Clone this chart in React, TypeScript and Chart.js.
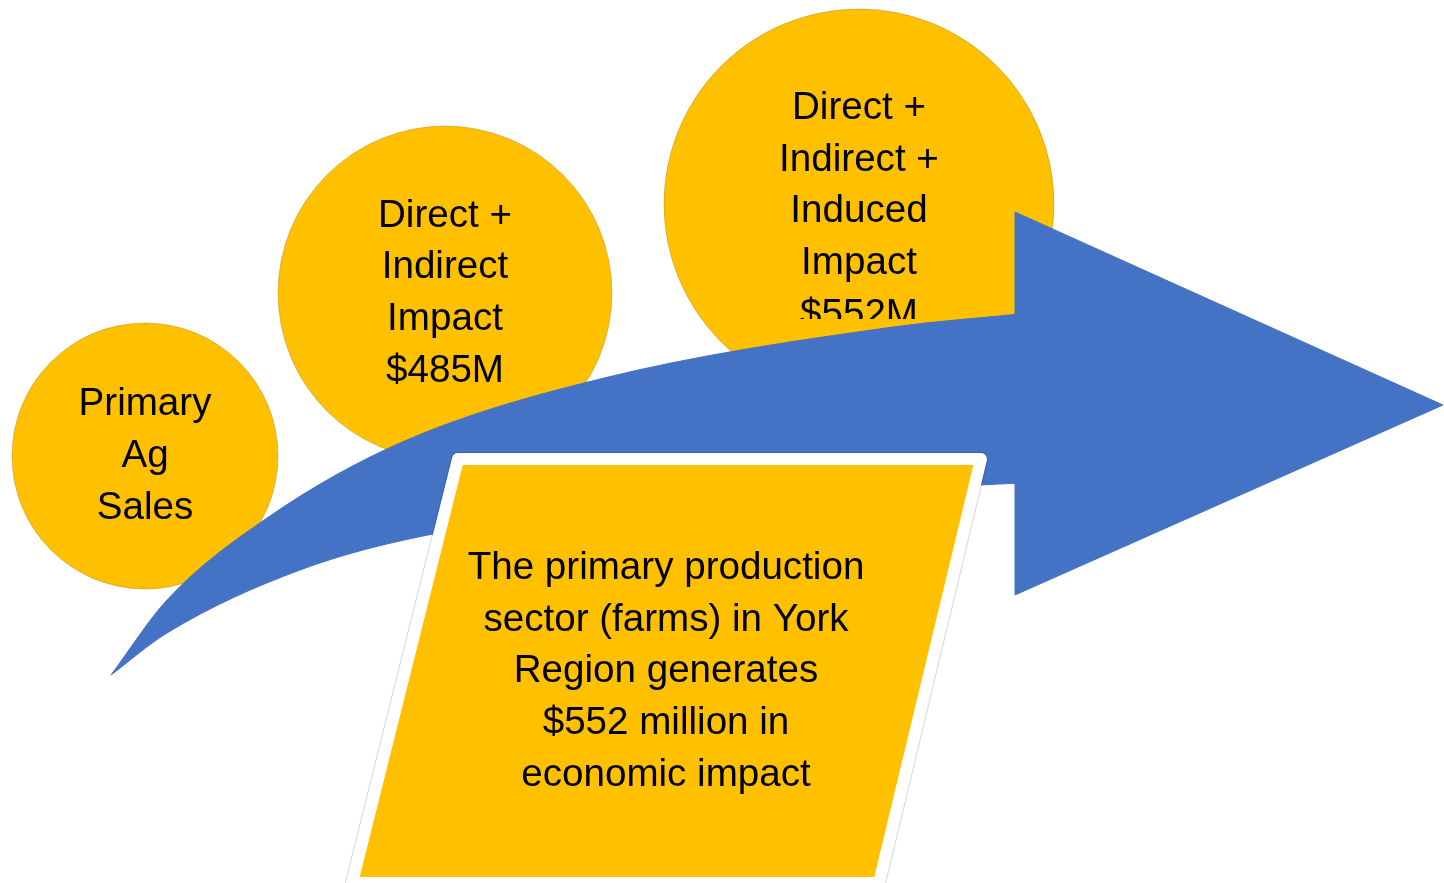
import React, { useEffect, useRef } from "react";
import { Chart, registerables } from "chart.js";

Chart.register(...registerables);

const W = 1444;
const H = 883;

// Impact circles (bubble dataset)
const circleLabels: string[][] = [
  ["Primary", "Ag", "Sales"],
  ["Direct +", "Indirect", "Impact", "$485M"],
  ["Direct +", "Indirect +", "Induced", "Impact", "$552M"],
];
const circleX = [145, 445, 859];
const circleY = [456, 293, 204];
const circleR = [133, 167, 195];
const circleLabelDy = [-3, -2.5, 4.5];
const circleLabelClipBottom = [H, H, 319];

// Curved arrow shaft: upper and lower edges
const shaftTopX = [111, 167, 267, 400, 600, 893, 1020];
const shaftTopY = [675, 600, 518, 443, 379, 327, 314];
const shaftBottomX = [111, 167, 300, 428, 700, 1020];
const shaftBottomY = [675, 633, 570, 535, 500, 483];

// Arrow head
const headX = [1015, 1015, 1443, 1015, 1015];
const headY = [400, 212, 405, 595, 400];

// Call-out parallelogram
const boxX = [352, 458, 981, 879, 352];
const boxY = [883, 459, 459, 883, 883];
const boxLines = [
  "The primary production",
  "sector (farms) in York",
  "Region generates",
  "$552 million in",
  "economic impact",
];
const boxTextX = 666;
const boxTextY = 668.5;

const YELLOW = "#FFC000";
const BLUE = "#4472C4";
const FONT = '38.6px "Liberation Sans", Arial, sans-serif';
const LINE_H = 51.7;

const pts = (xs: number[], ys: number[]) => xs.map((x, i) => ({ x, y: ys[i] }));

function drawLines(ctx: CanvasRenderingContext2D, lines: string[], cx: number, cy: number) {
  const n = lines.length;
  lines.forEach((t, i) => {
    const y = cy + (i - (n - 1) / 2) * LINE_H + 13.8;
    ctx.fillText(t, cx, y);
  });
}

const textPlugin = {
  id: "diagramText",
  afterDatasetDraw(chart: any, args: any) {
    if (args.index !== 0) return;
    const ctx = chart.ctx as CanvasRenderingContext2D;
    const xs = chart.scales.x;
    const ys = chart.scales.y;
    circleLabels.forEach((lines, i) => {
      ctx.save();
      const bottom = ys.getPixelForValue(circleLabelClipBottom[i]);
      ctx.beginPath();
      ctx.rect(0, 0, chart.width, bottom);
      ctx.clip();
      ctx.font = FONT;
      ctx.fillStyle = "#000";
      ctx.textAlign = "center";
      ctx.textBaseline = "alphabetic";
      drawLines(
        ctx,
        lines,
        xs.getPixelForValue(circleX[i]),
        ys.getPixelForValue(circleY[i] + circleLabelDy[i])
      );
      ctx.restore();
    });
  },
  afterDatasetsDraw(chart: any) {
    const ctx = chart.ctx as CanvasRenderingContext2D;
    const xs = chart.scales.x;
    const ys = chart.scales.y;
    ctx.save();
    ctx.font = FONT;
    ctx.fillStyle = "#000";
    ctx.textAlign = "center";
    ctx.textBaseline = "alphabetic";
    drawLines(ctx, boxLines, xs.getPixelForValue(boxTextX), ys.getPixelForValue(boxTextY));
    ctx.restore();
  },
};

export default function App() {
  const ref = useRef<HTMLCanvasElement | null>(null);

  useEffect(() => {
    if (!ref.current) return;
    const lineBase = {
      type: "line" as const,
      pointRadius: 0,
      pointHoverRadius: 0,
      borderWidth: 1,
      tension: 0,
      clip: false,
    };
    const chart = new Chart(ref.current, {
      type: "bubble",
      data: {
        datasets: [
          {
            type: "bubble",
            data: circleX.map((x, i) => ({ x, y: circleY[i], r: circleR[i] })),
            backgroundColor: YELLOW,
            borderColor: "rgba(150,115,0,0.35)",
            borderWidth: 1,
            clip: false,
            order: 10,
          } as any,
          {
            ...lineBase,
            data: pts(shaftTopX, shaftTopY),
            borderColor: BLUE,
            backgroundColor: BLUE,
            cubicInterpolationMode: "monotone",
            fill: false,
            order: 9,
          },
          {
            ...lineBase,
            data: pts(shaftBottomX, shaftBottomY),
            borderColor: BLUE,
            backgroundColor: BLUE,
            cubicInterpolationMode: "monotone",
            fill: "-1",
            order: 8,
          },
          {
            ...lineBase,
            data: pts(headX, headY),
            borderColor: BLUE,
            backgroundColor: BLUE,
            fill: "shape",
            order: 7,
          },
          {
            ...lineBase,
            data: pts(boxX, boxY),
            borderColor: "rgba(0,0,0,0.16)",
            borderWidth: 14,
            borderJoinStyle: "round",
            borderCapStyle: "round",
            backgroundColor: "transparent",
            fill: false,
            order: 6,
          },
          {
            ...lineBase,
            data: pts(boxX, boxY),
            borderColor: "#FFFFFF",
            borderWidth: 12,
            borderJoinStyle: "round",
            borderCapStyle: "round",
            backgroundColor: YELLOW,
            fill: "shape",
            order: 5,
          },
        ] as any,
      },
      options: {
        responsive: false,
        animation: false,
        devicePixelRatio: 1,
        events: [],
        layout: { padding: 0, autoPadding: false },
        plugins: {
          legend: { display: false },
          tooltip: { enabled: false },
        },
        scales: {
          x: { type: "linear", min: 0, max: W, display: false },
          y: { type: "linear", min: 0, max: H, reverse: true, display: false },
        },
      } as any,
      plugins: [textPlugin as any],
    });
    return () => chart.destroy();
  }, []);

  return (
    <div style={{ position: "fixed", left: 0, top: 0, width: W, height: H, background: "#fff" }}>
      <canvas ref={ref} width={W} height={H} style={{ display: "block" }} />
    </div>
  );
}
